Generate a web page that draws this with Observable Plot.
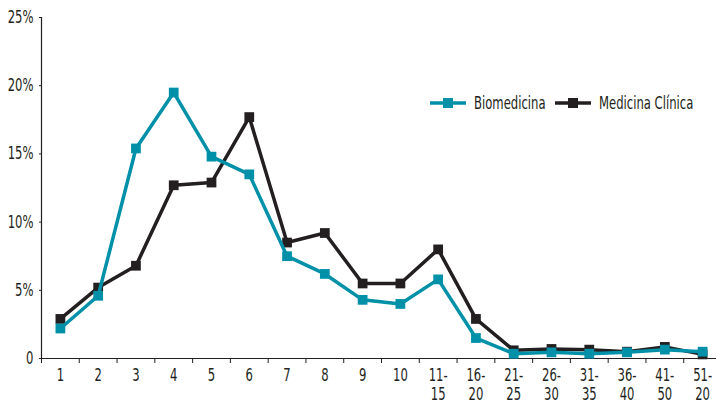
<!DOCTYPE html>
<html>
<head>
<meta charset="utf-8">
<script src="https://cdn.jsdelivr.net/npm/d3@7"></script>
<script src="https://cdn.jsdelivr.net/npm/@observablehq/plot@0.6"></script>
<style>
  body { margin: 0; background: #fff; }
  #wrap { position: relative; width: 716px; height: 407px; overflow: hidden; }
  #legend { position: absolute; left: 0; top: 93px; width: 716px; height: 18px;
    font-family: "DejaVu Sans Condensed", sans-serif; font-size: 17px; color: #231f20; }
  #legend .item { position: absolute; top: 0; display: flex; align-items: center; white-space: nowrap; }
  #legend svg { margin-right: 8px; }
  #legend span { display: inline-block; transform: scaleX(0.76); transform-origin: left center; }
</style>
</head>
<body>
<div id="wrap"><div id="legend"></div></div>
<script>
const categories = ["1","2","3","4","5","6","7","8","9","10","11-15","16-20","21-25","26-30","31-35","36-40","41-50","51-20"];
const biomedicina = [2.2, 4.6, 15.4, 19.5, 14.8, 13.5, 7.5, 6.2, 4.3, 4.0, 5.8, 1.5, 0.35, 0.45, 0.35, 0.45, 0.65, 0.5];
const medicinaClinica = [2.9, 5.2, 6.8, 12.7, 12.9, 17.7, 8.5, 9.2, 5.5, 5.5, 8.0, 2.9, 0.6, 0.7, 0.65, 0.5, 0.85, 0.3];
const seriesNames = ["Biomedicina", "Medicina Clínica"];
const seriesColors = ["#0090a8", "#231f20"];
const yTicks = [0, 5, 10, 15, 20, 25];

const bio = categories.map((c, i) => ({cat: c, v: biomedicina[i]}));
const med = categories.map((c, i) => ({cat: c, v: medicinaClinica[i]}));

const font = "'DejaVu Sans Condensed', sans-serif";
const bw = (721 - 41) / categories.length;

const chart = Plot.plot({
  width: 716,
  height: 407,
  marginLeft: 41,
  marginRight: 0,
  marginTop: 17,
  marginBottom: 49,
  style: {fontFamily: font, fontSize: "17px", color: "#231f20", background: "#fff"},
  x: {type: "band", domain: categories, range: [41, 721], padding: 0, round: false},
  y: {domain: [0, 25], range: [358, 17]},
  marks: [
    Plot.frame({anchor: "left", stroke: "#231f20", strokeWidth: 1.2}),
    Plot.frame({anchor: "bottom", stroke: "#231f20", strokeWidth: 1.2}),
    Plot.axisY({ticks: yTicks, tickSize: 2, tickPadding: 6, tickFormat: d => d === 0 ? "0" : d + "%", label: null, stroke: "#231f20"}),
    Plot.axisX({tickSize: 5, dx: -bw / 2, tickFormat: () => "", label: null, stroke: "#231f20"}),
    Plot.axisX({tickSize: 0, tickPadding: 9, lineHeight: 1.12, tickFormat: d => d.replace("-", "-\n"), label: null}),
    Plot.line(med, {x: "cat", y: "v", stroke: seriesColors[1], strokeWidth: 3.5}),
    Plot.dot(med, {x: "cat", y: "v", symbol: "square", r: 5.5, fill: seriesColors[1]}),
    Plot.line(bio, {x: "cat", y: "v", stroke: seriesColors[0], strokeWidth: 3.5}),
    Plot.dot(bio, {x: "cat", y: "v", symbol: "square", r: 5.5, fill: seriesColors[0]})
  ]
});
// condense tick label glyphs horizontally around each label's anchor point
chart.querySelectorAll("text").forEach(t => {
  const tr = t.getAttribute("transform");
  if (tr) {
    t.setAttribute("transform", tr + " scale(0.76,1)");
  } else {
    const x = +(t.getAttribute("x") || 0), y = +(t.getAttribute("y") || 0);
    t.setAttribute("transform", `translate(${x},${y}) scale(0.76,1) translate(${-x},${-y})`);
  }
});
document.getElementById("wrap").prepend(chart);

const legendLeft = [430, 555];
const legend = document.getElementById("legend");
seriesNames.forEach((name, i) => {
  const item = document.createElement("div");
  item.className = "item";
  item.style.left = legendLeft[i] + "px";
  item.innerHTML = `<svg width="36" height="12"><line x1="0" x2="36" y1="6" y2="6" stroke="${seriesColors[i]}" stroke-width="3.5"/><rect x="13" y="1" width="10" height="10" fill="${seriesColors[i]}"/></svg><span>${name}</span>`;
  legend.appendChild(item);
});
</script>
</body>
</html>
